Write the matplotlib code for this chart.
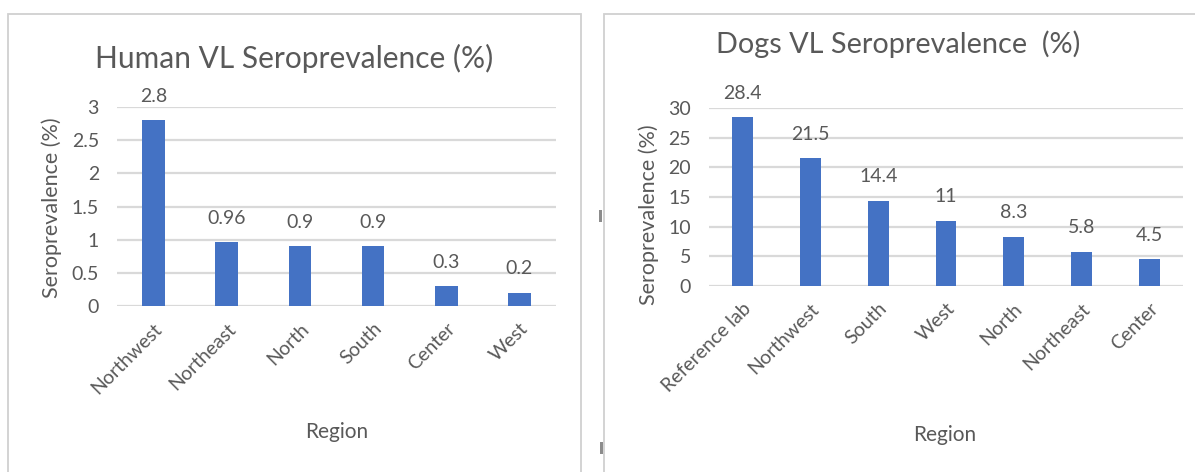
import matplotlib
matplotlib.use("Agg")
import matplotlib.pyplot as plt
from matplotlib.patches import Rectangle
from matplotlib.ticker import FuncFormatter

# data
human_regions = ["Northwest", "Northeast", "North", "South", "Center", "West"]
human_values = [2.8, 0.96, 0.9, 0.9, 0.3, 0.2]
human_labels = ["2.8", "0.96", "0.9", "0.9", "0.3", "0.2"]

dog_regions = ["Reference lab", "Northwest", "South", "West", "North", "Northeast", "Center"]
dog_values = [28.4, 21.5, 14.4, 11, 8.3, 5.8, 4.5]
dog_labels = ["28.4", "21.5", "14.4", "11", "8.3", "5.8", "4.5"]

BAR = "#4472C4"
TXT = "#595959"
GRID = "#D9D9D9"
plt.rcParams["font.family"] = ["Lato", "DejaVu Sans"]

fig = plt.figure(figsize=(11.95, 4.72), dpi=100)
W, H = 1195, 472

# panel frames (pixel coords -> figure fraction)
def frame(x0, y0, x1, y1):
    fig.patches.append(Rectangle((x0 / W, 1 - y1 / H), (x1 - x0) / W, (y1 - y0) / H,
                                 transform=fig.transFigure, fill=False,
                                 edgecolor="#D0D0D0", lw=1.3))

frame(8, 14, 581, 480)
frame(604, 14, 1200, 480)
# small grey marks between the panels
for (x, y, w, h) in [(599, 210, 3, 12), (600, 442, 3, 12)]:
    fig.patches.append(Rectangle((x / W, 1 - (y + h) / H), w / W, h / H,
                                 transform=fig.transFigure, color="#8C8C8C", lw=0))


def panel(rect, cats, vals, labels, ymax, step, title, title_xy, ylab_x, region_xy, tsize):
    ax = fig.add_axes(rect)
    x = range(len(cats))
    ax.bar(x, vals, width=0.31, color=BAR, zorder=3)
    ax.set_xlim(-0.5, len(cats) - 0.5)
    ax.set_ylim(0, ymax)
    ax.set_yticks([i * step for i in range(int(round(ymax / step)) + 1)])
    ax.yaxis.set_major_formatter(FuncFormatter(lambda v, p: "{:g}".format(v)))
    ax.grid(axis="y", color=GRID, lw=1.6, zorder=0)
    for s in ax.spines.values():
        s.set_visible(False)
    ax.tick_params(axis="both", length=0, colors=TXT, labelsize=14)
    ax.tick_params(axis="y", pad=13)
    ax.tick_params(axis="x", pad=10)
    ax.set_xticks(list(x))
    ax.set_xticklabels(cats, rotation=45, ha="right", rotation_mode="anchor", fontsize=14)
    for xi, v, lab in zip(x, vals, labels):
        ax.annotate(lab, (xi, v), xytext=(0, 11), textcoords="offset points",
                    ha="center", va="bottom", fontsize=14, color=TXT)
    fig.text(title_xy[0] / W, 1 - title_xy[1] / H, title, ha="center", va="center",
             fontsize=tsize, color=TXT)
    fig.text(ylab_x[0] / W, 1 - ylab_x[1] / H, "Seroprevalence (%)", rotation=90,
             ha="center", va="center", fontsize=15.5, color=TXT)
    fig.text(region_xy[0] / W, 1 - region_xy[1] / H, "Region", ha="center", va="center",
             fontsize=15, color=TXT)
    return ax


panel([117 / W, 1 - 306 / H, 439 / W, 199 / H], human_regions, human_values, human_labels,
      3, 0.5, "Human VL Seroprevalence (%)", (294, 58), (52, 208), (337, 432), 21.5)
panel([709 / W, 1 - 286 / H, 474 / W, 178 / H], dog_regions, dog_values, dog_labels,
      30, 5, "Dogs VL Seroprevalence  (%)", (898, 44), (649, 215), (945, 435), 20.8)

fig.savefig("out.png", dpi=100, facecolor="white")
